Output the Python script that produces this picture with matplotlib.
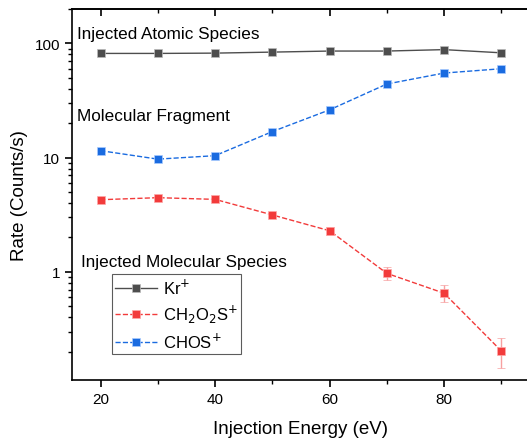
import numpy as np
import matplotlib.pyplot as plt
from matplotlib.lines import Line2D
from matplotlib.ticker import LogLocator, NullFormatter, FixedLocator

plt.rcParams['font.family'] = ['Liberation Sans', 'DejaVu Sans']

# injection energy (eV)
energy = [20, 30, 40, 50, 60, 70, 80, 90]

# rates in counts/s
kr_rate = [81.7, 81.7, 82.2, 83.9, 85.7, 85.7, 88.2, 82.7]
ch2o2s_rate = [4.28, 4.46, 4.31, 3.15, 2.29, 0.97, 0.65, 0.203]
ch2o2s_err = [0.1, 0.1, 0.1, 0.1, 0.2, 0.13, 0.11, 0.06]
chos_rate = [11.5, 9.7, 10.4, 16.9, 26.2, 44.1, 55.0, 60.0]

c_kr = '#4d4d4d'
c_red = '#f23b3b'
c_blue = '#1a6be0'
ms = 6.2

fig = plt.figure(figsize=(5.27, 4.39), dpi=100)
ax = fig.add_axes([0.1366, 0.1321, 0.869, 0.8451])

ax.plot(energy, kr_rate, '-', color=c_kr, lw=1.0, marker='s', ms=ms,
        mec='#bbbbbb', mew=0.5)
ax.errorbar(energy, ch2o2s_rate, yerr=ch2o2s_err, fmt='--', color=c_red, lw=1.0,
            marker='s', ms=ms, mec='#ffaaaa', mew=0.5, ecolor='#f7a0a0',
            elinewidth=1.0, capsize=3)
ax.plot(energy, chos_rate, '--', color=c_blue, lw=1.0, marker='s', ms=ms,
        mec='#aaccff', mew=0.5)

ax.set_yscale('log')
ax.set_xlim(15, 95)
ax.set_ylim(0.113, 200)

ax.xaxis.set_major_locator(FixedLocator([20, 40, 60, 80]))
ax.xaxis.set_minor_locator(FixedLocator([30, 50, 70, 90]))
ax.yaxis.set_major_locator(FixedLocator([1, 10, 100]))
ax.yaxis.set_major_formatter(plt.FuncFormatter(lambda v, p: f'{v:g}'))
ax.yaxis.set_minor_locator(LogLocator(base=10, subs=np.arange(2, 10), numticks=20))
ax.yaxis.set_minor_formatter(NullFormatter())

ax.tick_params(axis='both', which='major', labelsize=11, length=5, width=1.2)
ax.tick_params(axis='both', which='minor', length=3, width=1.0)

# top axis: ticks pointing inward, no labels
top = ax.secondary_xaxis('top')
top.xaxis.set_major_locator(FixedLocator([20, 40, 60, 80]))
top.xaxis.set_minor_locator(FixedLocator([30, 50, 70, 90]))
top.tick_params(which='major', direction='in', length=5, width=1.2, labeltop=False)
top.tick_params(which='minor', direction='in', length=3, width=1.0)
top.spines['top'].set_linewidth(1.2)
for s in ax.spines.values():
    s.set_linewidth(1.2)

ax.set_xlabel('Injection Energy (eV)', fontsize=13.5, labelpad=10)
ax.set_ylabel('Rate (Counts/s)', fontsize=13.5)
ax.yaxis.set_label_coords(-0.097, 0.5)

ax.text(15.9, 123, 'Injected Atomic Species', fontsize=12.3, va='center')
ax.text(15.9, 23.6, 'Molecular Fragment', fontsize=12.3, va='center')
ax.text(16.6, 1.22, 'Injected Molecular Species', fontsize=12.3, va='center')

handles = [
    Line2D([], [], ls='-', color=c_kr, lw=1.0, marker='s', ms=ms, mec='#bbbbbb', mew=0.5),
    Line2D([], [], ls='--', color=c_red, lw=1.0, marker='s', ms=ms, mec='#ffaaaa', mew=0.5),
    Line2D([], [], ls='--', color=c_blue, lw=1.0, marker='s', ms=ms, mec='#aaccff', mew=0.5),
]
labels = ['Kr$^{+}$', 'CH$_2$O$_2$S$^{+}$', 'CHOS$^{+}$']
leg = ax.legend(handles, labels, loc='upper left', bbox_to_anchor=(0.087, 0.2857),
                fontsize=12, frameon=True, fancybox=False, edgecolor='#333333',
                handlelength=2.5, handletextpad=0.35, labelspacing=0.38,
                borderpad=0.2, borderaxespad=0)
leg.get_frame().set_linewidth(0.8)

fig.savefig('out.png', dpi=100)
